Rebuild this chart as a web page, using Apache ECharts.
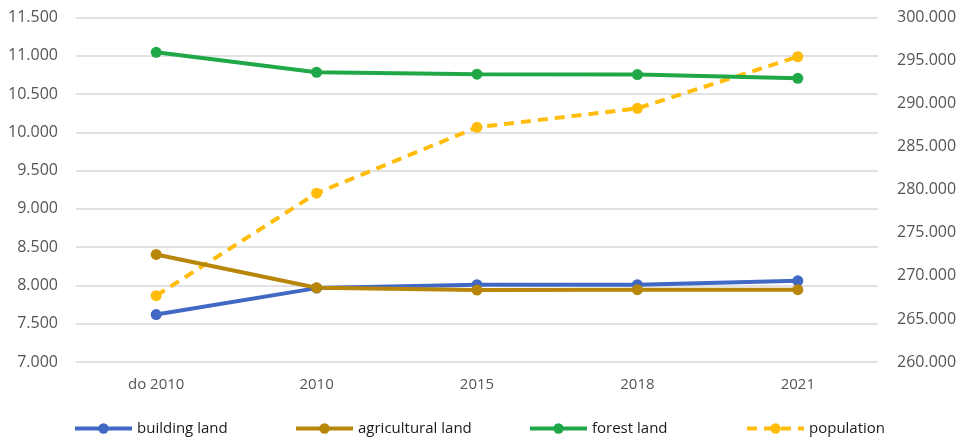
<!DOCTYPE html>
<html>
<head>
<meta charset="utf-8">
<script src="https://cdn.jsdelivr.net/npm/echarts@6/dist/echarts.min.js"></script>
<style>
	html, body { margin: 0; padding: 0; background: #fff; }
	#main { width: 970px; height: 437px; }
</style>
</head>
<body>
<div id="main"></div>
<script>
// data
var categories = ['do 2010', '2010', '2015', '2018', '2021'];
var buildingLand = [7620, 7965, 8010, 8010, 8060];
var agriculturalLand = [8405, 7970, 7940, 7945, 7945];
var forestLand = [11045, 10785, 10760, 10755, 10705];
var population = [267700, 279600, 287250, 289450, 295450];

var seriesNames = ['building land', 'agricultural land', 'forest land', 'population'];
var colors = ['#4169C4', '#B8870A', '#20A848', '#FFBC0A'];
var legendLeft = [68, 289, 523, 740];

function dotted(v) {
	// 11500 -> 11.500
	var s = String(Math.round(v));
	return s.replace(/\B(?=(\d{3})+(?!\d))/g, '.');
}

var chart = echarts.init(document.getElementById('main'));

function lineSeries(name, data, color, yIndex, dashed) {
	return {
		name: name,
		type: 'line',
		yAxisIndex: yIndex,
		data: data,
		symbol: 'circle',
		symbolSize: 11,
		showSymbol: true,
		itemStyle: { color: color },
		lineStyle: { color: color, width: 4, type: dashed ? [10, 7] : 'solid' },
		z: dashed ? 1 : 2
	};
}

var legends = [];
for (var i = 0; i < seriesNames.length; i++) {
	legends.push({
		data: [seriesNames[i]],
		left: legendLeft[i],
		top: 416,
		itemWidth: 57,
		itemHeight: 13,
		itemGap: 0,
		lineStyle: { width: 4 },
		textStyle: { color: '#1a1a1a', fontSize: 15, fontFamily: 'Open Sans' }
	});
}

var option = {
	backgroundColor: '#fff',
	animation: false,
	grid: { left: 76, right: 92, top: 17.5, bottom: 75, containLabel: false },
	legend: legends,
	xAxis: {
		type: 'category',
		data: categories,
		boundaryGap: true,
		axisLine: { show: false },
		axisTick: { show: false },
		axisLabel: { color: '#555', fontSize: 15, fontFamily: 'Open Sans', margin: 15 }
	},
	yAxis: [{
		type: 'value',
		min: 7000,
		max: 11500,
		interval: 500,
		axisLine: { show: false },
		axisTick: { show: false },
		splitLine: { lineStyle: { color: '#d9d9d9', width: 1.5 } },
		axisLabel: { color: '#555', fontSize: 16, fontFamily: 'Open Sans', margin: 18, formatter: dotted }
	}, {
		type: 'value',
		min: 260000,
		max: 300000,
		interval: 5000,
		axisLine: { show: false },
		axisTick: { show: false },
		splitLine: { show: false },
		axisLabel: { color: '#555', fontSize: 16, fontFamily: 'Open Sans', margin: 19, formatter: dotted }
	}],
	series: [
		lineSeries(seriesNames[3], population, colors[3], 1, true),
		lineSeries(seriesNames[0], buildingLand, colors[0], 0, false),
		lineSeries(seriesNames[1], agriculturalLand, colors[1], 0, false),
		lineSeries(seriesNames[2], forestLand, colors[2], 0, false)
	]
};
chart.setOption(option);
</script>
</body>
</html>
